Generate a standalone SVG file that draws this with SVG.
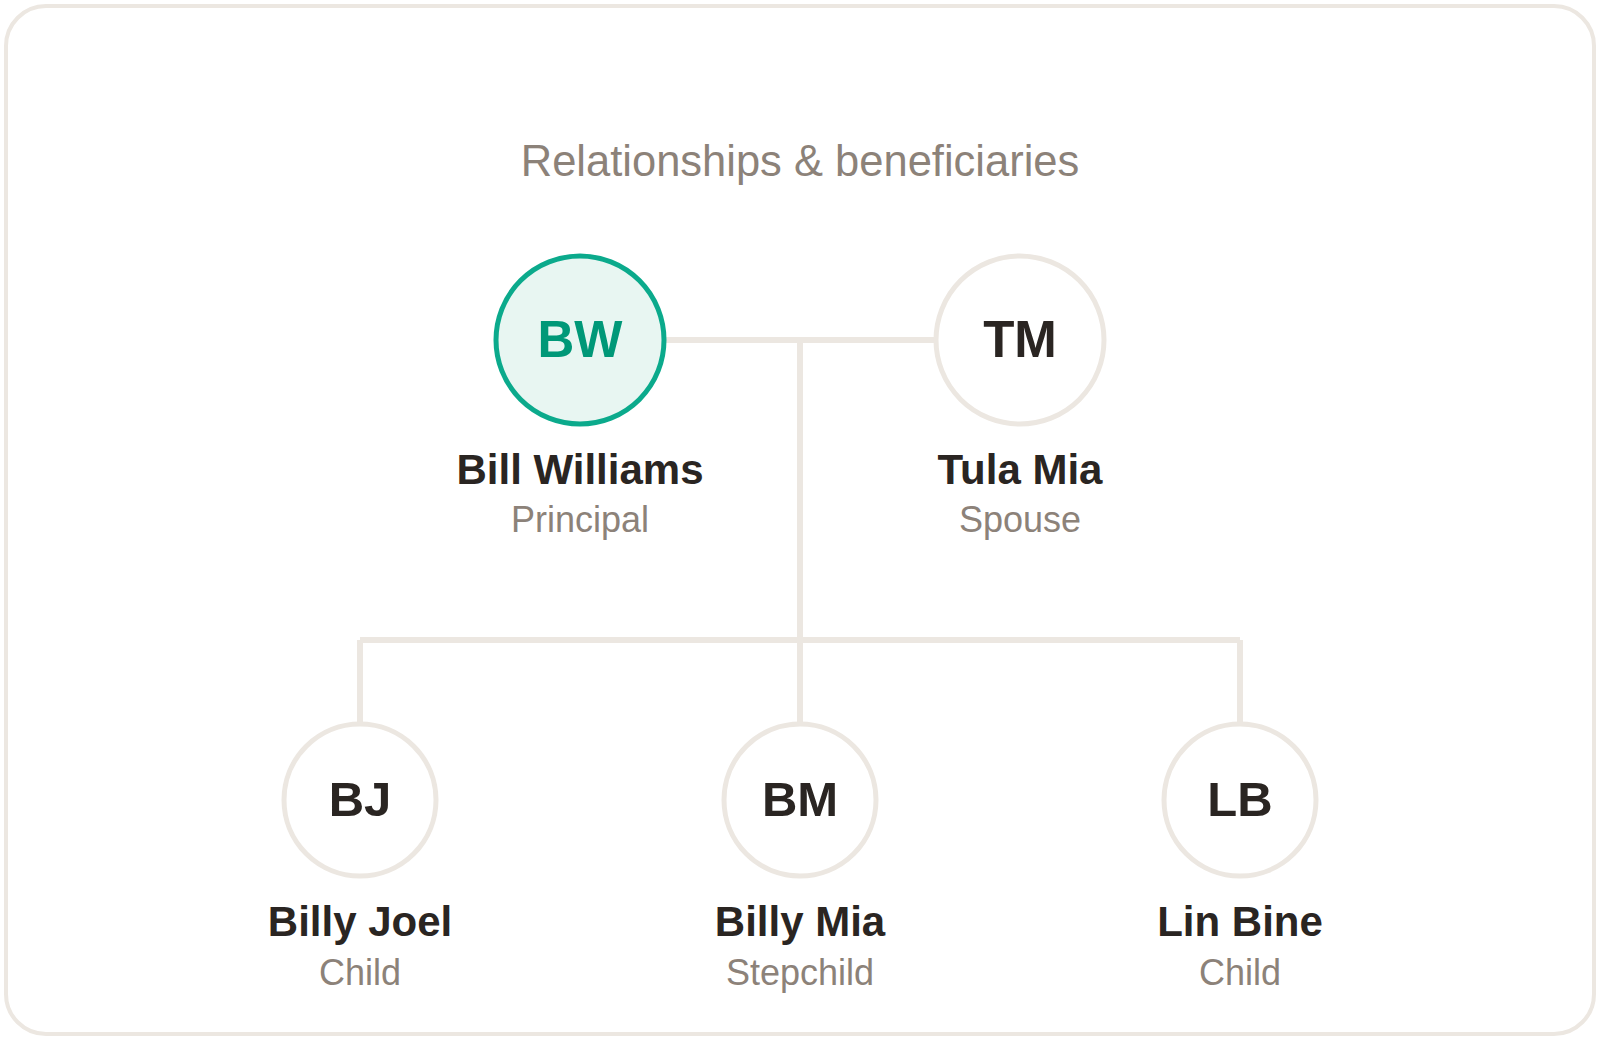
<svg xmlns="http://www.w3.org/2000/svg" width="1600" height="1040" viewBox="0 0 1600 1040">
<style>
.frame{fill:#ffffff;stroke:#ECE7E1;stroke-width:4}
.link{stroke:#ECE7E1;stroke-width:6;fill:none;stroke-linecap:butt}
.ring{fill:#ffffff;stroke:#ECE7E1;stroke-width:5}
.ring.main{fill:#E8F6F2;stroke:#0BAA8C}
.ini{font-family:"Liberation Sans",Arial,sans-serif;font-weight:bold;fill:#2A2522;text-anchor:middle}
.ini.main{fill:#009878}
.name{font-family:"Liberation Sans",Arial,sans-serif;font-weight:bold;font-size:42px;fill:#2A2522;text-anchor:middle}
.role{font-family:"Liberation Sans",Arial,sans-serif;font-size:36px;fill:#8C8279;text-anchor:middle}
.title{font-family:"Liberation Sans",Arial,sans-serif;font-size:43.5px;fill:#8C8279;text-anchor:middle}
</style>
<rect class="frame" x="6" y="6" width="1588" height="1028" rx="40" ry="40"/>
<text class="title" x="800" y="176">Relationships &amp; beneficiaries</text>
<g id="connectors">
<line class="link" x1="664" y1="340" x2="936" y2="340"/>
<line class="link" x1="800" y1="340" x2="800" y2="724"/>
<line class="link" x1="360" y1="640" x2="1240" y2="640"/>
<line class="link" x1="360" y1="640" x2="360" y2="724"/>
<line class="link" x1="1240" y1="640" x2="1240" y2="724"/>
</g>
<g id="node-bw">
<circle class="ring main" cx="580" cy="340" r="84"/>
<text class="ini main" x="580" y="357" font-size="51">BW</text>
<text class="name" x="580" y="484">Bill Williams</text>
<text class="role" x="580" y="532">Principal</text>
</g>
<g id="node-tm">
<circle class="ring" cx="1020" cy="340" r="84"/>
<text class="ini" x="1020" y="357" font-size="51">TM</text>
<text class="name" x="1020" y="484">Tula Mia</text>
<text class="role" x="1020" y="532">Spouse</text>
</g>
<g id="node-bj">
<circle class="ring" cx="360" cy="800" r="76"/>
<text class="ini" x="360" y="816" font-size="49">BJ</text>
<text class="name" x="360" y="936">Billy Joel</text>
<text class="role" x="360" y="985">Child</text>
</g>
<g id="node-bm">
<circle class="ring" cx="800" cy="800" r="76"/>
<text class="ini" x="800" y="816" font-size="49">BM</text>
<text class="name" x="800" y="936">Billy Mia</text>
<text class="role" x="800" y="985">Stepchild</text>
</g>
<g id="node-lb">
<circle class="ring" cx="1240" cy="800" r="76"/>
<text class="ini" x="1240" y="816" font-size="49">LB</text>
<text class="name" x="1240" y="936">Lin Bine</text>
<text class="role" x="1240" y="985">Child</text>
</g>
</svg>
